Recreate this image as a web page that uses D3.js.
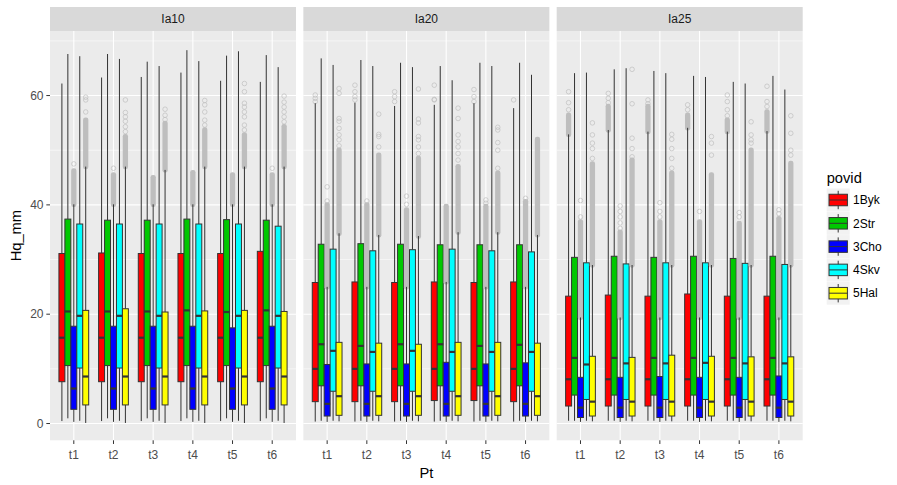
<!DOCTYPE html>
<html><head><meta charset="utf-8">
<script src="https://cdn.jsdelivr.net/npm/d3@7"></script>
<style>body{margin:0;background:#fff}svg{display:block;font-family:"Liberation Sans",Arial,sans-serif}</style>
</head><body><svg id="c" width="897" height="485"></svg>
<script>
// ---------- data ----------
const panelNames = ["Ia10","Ia20","Ia25"];
const times = ["t1","t2","t3","t4","t5","t6"];
const groups = ["1Byk","2Str","3Cho","4Skv","5Hal"];
const yTicks = [0,20,40,60];
const yMinorTicks = [10,30,50,70];

// all arrays: [panel][group][time]
const lowerWhisker = [
 [[0.45,0.45,0.45,0.45,0.45,0.45],[0.95,0.95,0.95,0.95,0.95,0.95],[0.3,0.3,0.3,0.3,0.3,0.3],[0.5,0.5,0.5,0.5,0.5,0.5],[0.1,0.1,0.1,0.1,0.1,0.1]],
 [[0.35,0.35,0.35,0.35,0.35,0.35],[0.5,0.5,0.5,0.5,0.5,0.5],[0.3,0.3,0.3,0.3,0.3,0.3],[0.5,0.5,0.5,0.5,0.5,0.5],[0.4,0.4,0.4,0.4,0.4,0.4]],
 [[0.5,0.5,0.5,0.5,0.5,0.5],[0.5,0.5,0.5,0.5,0.5,0.5],[0.3,0.3,0.3,0.3,0.3,0.3],[0.5,0.5,0.5,0.5,0.5,0.5],[0.4,0.4,0.4,0.4,0.4,0.4]]
];
const q1 = [
 [[7.65,7.65,7.65,7.65,7.65,7.65],[10.6,10.6,10.6,10.6,10.6,10.6],[2.6,2.6,2.6,2.6,2.6,2.6],[10.15,10.15,10.15,10.15,10.15,10.15],[3.4,3.4,3.4,3.4,3.4,3.4]],
 [[4.0,4.0,4.0,4.2,4.2,4.0],[6.9,6.9,6.9,6.9,6.9,6.9],[1.37,1.37,1.37,1.37,1.37,1.37],[5.9,5.9,5.9,5.9,5.9,5.9],[1.5,1.5,1.5,1.5,1.5,1.5]],
 [[3.2,3.2,3.2,3.2,3.2,3.2],[5.2,5.2,5.2,5.2,5.2,5.2],[1.1,1.1,1.1,1.1,1.1,1.1],[4.4,4.4,4.4,4.4,4.4,4.4],[1.37,1.37,1.37,1.37,1.37,1.37]]
];
const median = [
 [[15.7,15.7,15.7,15.7,15.7,15.7],[20.5,20.5,20.5,20.7,20.4,20.7],[6.4,6.4,6.4,6.4,6.4,6.4],[19.7,19.7,19.7,19.7,19.7,19.7],[8.6,8.6,8.6,8.6,8.6,8.6]],
 [[10.0,10.0,10.0,10.0,10.0,10.0],[14.5,14.2,14.5,14.5,14.2,14.4],[3.6,3.6,3.6,3.6,3.6,3.6],[13.3,13.1,13.3,13.1,13.1,13.1],[5.0,5.0,5.0,5.0,5.0,5.0]],
 [[8.1,8.1,8.1,8.1,8.1,8.1],[12.0,12.0,12.0,12.0,12.0,12.0],[2.9,2.9,2.9,2.9,2.9,2.9],[10.8,11.0,11.0,11.1,11.0,11.0],[4.0,4.0,4.0,4.0,4.0,4.0]]
];
const q3 = [
 [[31.1,31.2,31.1,31.1,31.1,31.5],[37.4,37.2,37.2,37.4,37.3,37.2],[17.8,17.8,17.8,17.8,17.5,17.8],[36.5,36.5,36.5,36.5,36.5,36.1],[20.7,21.0,20.4,20.6,20.7,20.5]],
 [[25.8,25.9,25.8,25.9,25.8,25.9],[32.8,32.9,32.8,32.7,32.7,32.7],[10.8,10.9,10.9,11.2,10.9,11.1],[31.9,31.6,31.8,31.9,31.6,31.4],[14.85,14.7,14.5,14.85,14.85,14.7]],
 [[23.3,23.5,23.3,23.7,23.3,23.3],[30.4,30.6,30.4,30.6,30.2,30.6],[8.45,8.45,8.6,8.45,8.45,8.7],[29.4,29.2,29.4,29.4,29.3,29.1],[12.3,12.1,12.5,12.3,12.2,12.2]]
];
const upperWhisker = [
 [[62.2,63.3,63.4,64.2,62.7,62.5],[67.6,67.6,66.2,68.3,67.3,67.4],[40.1,40.1,40.1,40.1,40.1,40.1],[67.2,66.7,65.4,66.3,68.1,65.2],[47.0,47.0,46.4,47.0,47.0,47.0]],
 [[58.6,58.7,58.1,58.3,58.6,57.7],[66.8,66.5,66.0,65.4,66.0,66.0],[25.0,25.0,25.0,25.9,25.0,25.0],[65.6,65.4,65.2,62.8,65.4,63.8],[34.8,34.5,34.3,35.0,35.0,34.5]],
 [[52.9,53.7,53.4,54.1,53.4,53.5],[64.1,64.8,64.5,63.6,62.5,63.6],[19.4,19.4,19.4,19.4,19.4,19.4],[64.2,65.0,64.1,63.4,62.2,61.1],[29.0,29.0,29.0,29.0,29.0,29.0]]
];
// top of the densely packed run of outliers just above the upper whisker (null = none)
const denseOutlierTop = [
 [null,null,[46.2,45.5,45.0,45.9,45.5,45.5],null,[55.5,52.5,54.9,53.7,52.8,54.3]],
 [null,null,[40.0,40.0,39.1,39.7,39.7,40.6],null,[50.0,49.1,48.5,47.0,45.8,52.0]],
 [[56.4,58.0,58.0,56.4,55.5,57.0],null,[36.9,35.0,36.9,36.9,36.6,37.5],null,[47.5,48.2,45.8,45.5,50.0,47.6]]
];
// separate outliers
const outliers = [
 [[[],[],[],[],[],[]],[[],[],[],[],[],[]],[[47.5],[46.7],[],[],[],[46.7]],[[],[],[],[],[],[]],
  [[57.0,59.2,59.7],[53.4,54.3,55.3,56.1,56.9,59.2],[55.6,56.4,57.5],[54.6,55.5,57.0,58.3,59.1],[53.7,54.6,56.1,57.0,57.9,58.6,60.7,62.2],[55.2,56.1,57.0,57.9,58.8,59.9]]],
 [[[58.9,59.5,60.1],[59.2,59.8,60.7,61.9],[58.9,59.8,60.7],[59.2,59.3,61.9],[58.9,59.8,61.1],[59.2]],[[],[],[],[],[],[]],
  [[40.7,43.3],[40.7],[40.1,41.6],[],[40.3,40.9],[41.2]],[[],[],[],[],[],[]],
  [[50.8,51.9,52.8,54.0,55.3,55.8,60.4,61.3],[50.6,52.5,52.9,56.6],[49.4,50.6,51.9,52.5,55.0,55.7,61.2],[48.2,49.4,50.6,51.6,52.8,55.8,57.7],[46.7,50.0,51.4,53.7,54.2],[]]],
 [[[57.4,58.7,60.7],[58.7,59.5,60.4],[58.5,59.2],[57.4,58.3],[56.3,57.4,58.9,60.1],[58.0,58.9,61.7]],[[],[],[],[],[],[]],
  [[37.8,40.8],[35.7,36.7,37.8,38.8,39.8],[37.8,38.8,40.4],[38.8],[37.8,38.6],[38.4,39.1]],[[],[],[],[],[],[]],
  [[48.5,50.3,51.3,52.8,55.0],[48.8,50.3,52.2,58.5,64.8],[46.7,48.5,50.3,52.0,52.9],[49.1,51.3,52.5],[51.3,51.9,52.8,55.2],[49.1,50.0,53.1,56.3]]]
];

// ---------- styles ----------
const fillColors = ["#FF0000","#00C800","#0000FF","#00FFFF","#FFFF00"];
const lineCol = "#333333";
const outCol = "#BEBEBE";

// ---------- scales ----------
const svg = d3.select("#c");
const panelTop = 31, panelBottom = 440.3;
const y = d3.scaleLinear().domain([-3.07, 71.81]).range([panelBottom, panelTop]);
const gapFrac = 7.33/253.33;
const px = d3.scaleBand().domain(panelNames).range([50, 802.7]).paddingInner(gapFrac).paddingOuter(0);
const pw = px.bandwidth();
const x = d3.scalePoint().domain(times).range([0, pw]).padding(0.6);
const step = x.step();
const dodge = d3.scaleBand().domain(groups).range([-0.375*step, 0.375*step]);
const bw = dodge.bandwidth();
const color = d3.scaleOrdinal().domain(groups).range(fillColors);

panelNames.forEach((pn, pi) => {
  const g = svg.append("g").attr("transform", `translate(${px(pn)},0)`);
  g.append("rect").attr("x",0).attr("y",panelTop).attr("width",pw).attr("height",panelBottom-panelTop).attr("fill","#EBEBEB");
  g.selectAll(".mn").data(yMinorTicks).enter().append("line")
    .attr("x1",0).attr("x2",pw).attr("y1",d=>y(d)).attr("y2",d=>y(d)).attr("stroke","#fff").attr("stroke-width",0.55);
  g.selectAll(".mj").data(yTicks).enter().append("line")
    .attr("x1",0).attr("x2",pw).attr("y1",d=>y(d)).attr("y2",d=>y(d)).attr("stroke","#fff").attr("stroke-width",1.1);
  g.selectAll(".vx").data(times).enter().append("line")
    .attr("x1",d=>x(d)).attr("x2",d=>x(d)).attr("y1",panelTop).attr("y2",panelBottom).attr("stroke","#fff").attr("stroke-width",1.1);

  // strip
  g.append("rect").attr("x",0).attr("y",7).attr("width",pw).attr("height",24).attr("fill","#D9D9D9");
  g.append("text").attr("x",pw/2).attr("y",19).attr("dy","0.35em").attr("text-anchor","middle")
    .attr("font-size",12).attr("fill","#1A1A1A").text(pn);

  times.forEach((t, ti) => {
    groups.forEach((gr, gi) => {
      const cx = x(t) + dodge(gr) + bw/2;
      const bg = g.append("g");
      const uw = upperWhisker[pi][gi][ti];
      const dt = denseOutlierTop[pi][gi] ? denseOutlierTop[pi][gi][ti] : null;
      const r = 2.3;
      if (dt != null) {
        bg.append("rect").attr("x",cx-r-0.35).attr("width",2*r+0.7)
          .attr("y",y(dt)-r-0.35).attr("height",y(uw)-y(dt)+2*r+0.7)
          .attr("rx",r).attr("fill",outCol);
      }
      bg.selectAll("circle").data(outliers[pi][gi][ti]).enter().append("circle")
        .attr("cx",cx).attr("cy",d=>y(d)).attr("r",r).attr("fill","none").attr("stroke",outCol).attr("stroke-width",0.7);
      // whiskers
      bg.append("line").attr("x1",cx).attr("x2",cx).attr("y1",y(uw)).attr("y2",y(q3[pi][gi][ti]))
        .attr("stroke",lineCol).attr("stroke-width",1);
      bg.append("line").attr("x1",cx).attr("x2",cx).attr("y1",y(q1[pi][gi][ti])).attr("y2",y(lowerWhisker[pi][gi][ti]))
        .attr("stroke",lineCol).attr("stroke-width",1);
      // box
      bg.append("rect").attr("x",cx-bw/2).attr("width",bw)
        .attr("y",y(q3[pi][gi][ti])).attr("height",y(q1[pi][gi][ti])-y(q3[pi][gi][ti]))
        .attr("fill",color(gr)).attr("stroke",lineCol).attr("stroke-width",1);
      bg.append("line").attr("x1",cx-bw/2).attr("x2",cx+bw/2).attr("y1",y(median[pi][gi][ti])).attr("y2",y(median[pi][gi][ti]))
        .attr("stroke",lineCol).attr("stroke-width",2.2);
    });
  });

  // x axis
  g.selectAll(".xt").data(times).enter().append("line")
    .attr("x1",d=>x(d)).attr("x2",d=>x(d)).attr("y1",panelBottom).attr("y2",panelBottom+3.67).attr("stroke",lineCol).attr("stroke-width",1);
  g.selectAll(".xl").data(times).enter().append("text")
    .attr("x",d=>x(d)).attr("y",454.5).attr("dy","0.35em").attr("text-anchor","middle")
    .attr("font-size",12).attr("fill","#4D4D4D").text(d=>d);
});

// y axis
const ya = svg.append("g");
ya.selectAll("line").data(yTicks).enter().append("line")
  .attr("x1",46.33).attr("x2",50).attr("y1",d=>y(d)).attr("y2",d=>y(d)).attr("stroke",lineCol).attr("stroke-width",1);
ya.selectAll("text").data(yTicks).enter().append("text")
  .attr("x",43.5).attr("y",d=>y(d)).attr("dy","0.35em").attr("text-anchor","end")
  .attr("font-size",12).attr("fill","#4D4D4D").text(d=>d);

// axis titles
svg.append("text").attr("transform",`translate(16,${(panelTop+panelBottom)/2}) rotate(-90)`)
  .attr("dy","0.35em").attr("text-anchor","middle").attr("font-size",14.7).attr("fill","#000").text("Hq_mm");
svg.append("text").attr("x",(50+802.7)/2).attr("y",472.5).attr("dy","0.35em").attr("text-anchor","middle")
  .attr("font-size",14.7).attr("fill","#000").text("Pt");

// legend
const lg = svg.append("g");
lg.append("text").attr("x",826.7).attr("y",178).attr("dy","0.35em").attr("font-size",14.7).attr("fill","#000").text("povid");
const keyTop = 188.5, keySize = 23.3;
groups.forEach((gr, i) => {
  const ky = keyTop + i*keySize, kx = 826.7, ks = 23;
  lg.append("rect").attr("x",kx).attr("y",ky).attr("width",ks).attr("height",ks).attr("fill","#F2F2F2");
  lg.append("line").attr("x1",kx+ks/2).attr("x2",kx+ks/2).attr("y1",ky+ks*0.1).attr("y2",ky+ks*0.9).attr("stroke",lineCol).attr("stroke-width",1);
  lg.append("rect").attr("x",kx+ks*0.1).attr("y",ky+ks*0.25).attr("width",ks*0.8).attr("height",ks*0.5)
    .attr("fill",color(gr)).attr("stroke",lineCol).attr("stroke-width",1);
  lg.append("line").attr("x1",kx+ks*0.1).attr("x2",kx+ks*0.9).attr("y1",ky+ks/2).attr("y2",ky+ks/2).attr("stroke",lineCol).attr("stroke-width",1);
  lg.append("text").attr("x",853).attr("y",ky+ks/2).attr("dy","0.35em").attr("font-size",12).attr("fill","#000").text(gr);
});
</script></body></html>
